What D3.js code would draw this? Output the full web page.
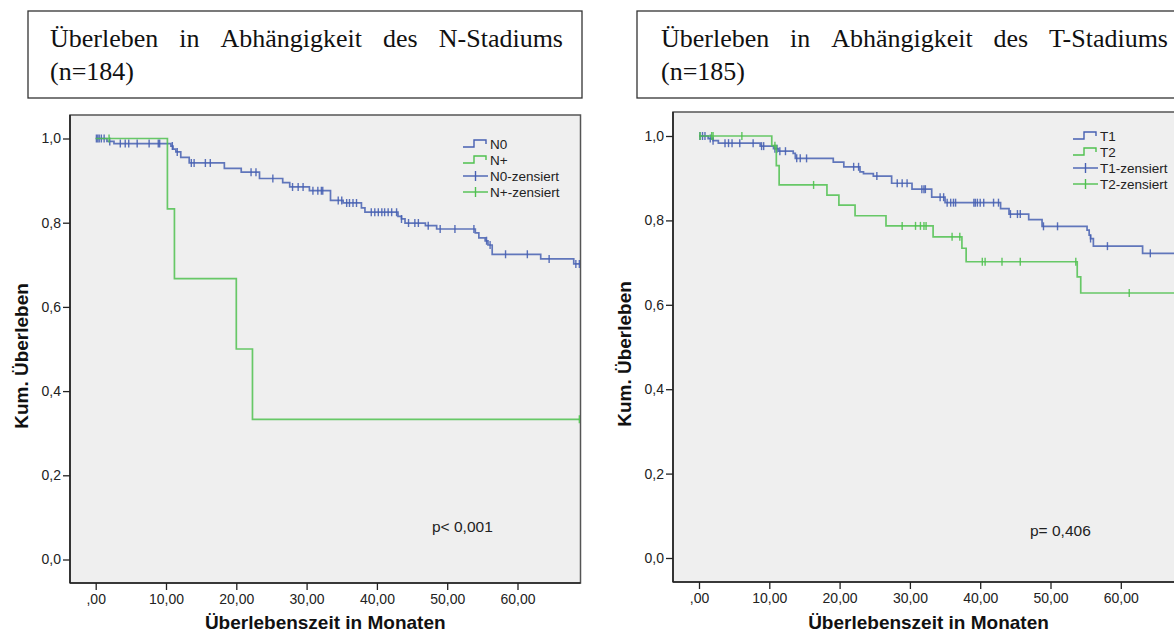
<!DOCTYPE html>
<html><head><meta charset="utf-8">
<script src="https://cdn.jsdelivr.net/npm/d3@7/dist/d3.min.js"></script>
<style>body{margin:0;background:#fff}svg{display:block}</style>
</head><body>
<svg id="c" width="1174" height="634"></svg>
<script>
// ---------- data ----------
const xTicks = [0, 10, 20, 30, 40, 50, 60];
const yTicks = [0, 0.2, 0.4, 0.6, 0.8, 1.0];

const titleLeft = ["Überleben in Abhängigkeit des N-Stadiums", "(n=184)"];
const titleRight = ["Überleben in Abhängigkeit des T-Stadiums", "(n=185)"];
const xTitle = "Überlebenszeit in Monaten";
const yTitle = "Kum. Überleben";
const pLeft = "p< 0,001";
const pRight = "p= 0,406";

// N-Stadium
const n0Times = [0, 1.6, 2.6, 10.7, 11.0, 11.4, 12.1, 13.3, 18.3, 20.7, 23.3, 26.6, 27.6, 30.4, 33.4, 35.2, 37.8, 38.3, 43.0, 43.5, 44.0, 46.9, 48.5, 54.0, 54.5, 55.4, 55.8, 56.4, 63.3, 68.0];
const n0Surv  = [1.0, 0.993, 0.988, 0.982, 0.975, 0.968, 0.955, 0.942, 0.929, 0.920, 0.905, 0.895, 0.885, 0.876, 0.853, 0.847, 0.835, 0.825, 0.815, 0.809, 0.799, 0.793, 0.785, 0.776, 0.764, 0.757, 0.747, 0.725, 0.714, 0.702];
const n0End = 68.9;
const n0Censored = [0.1, 0.3, 0.5, 0.8, 1.2, 2.0, 3.5, 4.2, 4.7, 5.9, 7.6, 8.9, 9.1, 10.9, 11.6, 13.6, 14.0, 15.6, 16.3, 22.1, 22.8, 25.2, 28.0, 28.8, 29.5, 30.9, 31.6, 32.1, 32.3, 34.5, 35.0, 35.7, 36.1, 36.6, 37.1, 39.2, 39.7, 40.2, 40.7, 41.1, 41.6, 42.1, 42.8, 43.5, 44.5, 45.4, 45.9, 47.3, 49.0, 51.1, 53.8, 55.6, 56.1, 58.3, 61.4, 64.5, 68.3, 68.8];

const nPlusTimes = [0, 10.2, 11.2, 20.0, 22.3];
const nPlusSurv  = [1.0, 0.833, 0.667, 0.5, 0.333];
const nPlusEnd = 68.9;
const nPlusCensored = [1.9, 68.8];

// T-Stadium
const t1Times = [0, 1.3, 2.0, 2.75, 8.7, 10.6, 11.3, 13.4, 13.7, 19.1, 20.6, 22.9, 23.4, 24.8, 27.4, 30.3, 33.1, 35.0, 42.9, 44.1, 46.9, 48.8, 55.2, 55.5, 55.7, 56.1, 63.1];
const t1Surv  = [1.0, 0.994, 0.989, 0.983, 0.976, 0.970, 0.964, 0.959, 0.947, 0.938, 0.927, 0.915, 0.911, 0.905, 0.888, 0.874, 0.855, 0.842, 0.828, 0.815, 0.802, 0.786, 0.777, 0.765, 0.757, 0.739, 0.722];
const t1End = 69.5;
const t1Censored = [0.14, 0.5, 0.85, 1.6, 2.0, 3.7, 4.2, 4.7, 5.8, 7.7, 8.9, 9.2, 10.8, 11.1, 11.5, 12.3, 13.9, 14.4, 15.3, 22.0, 22.7, 25.3, 28.2, 28.9, 29.6, 31.7, 32.0, 32.2, 34.3, 34.8, 35.3, 35.8, 36.2, 36.5, 39.1, 39.3, 39.6, 40.0, 40.5, 41.9, 42.6, 44.3, 45.3, 45.7, 49.0, 51.0, 55.7, 58.1, 64.2];

const t2Times = [0, 10.35, 11.0, 11.4, 18.2, 19.9, 22.2, 26.6, 33.3, 37.4, 38.0, 53.8, 54.3];
const t2Surv  = [1.0, 0.977, 0.930, 0.884, 0.860, 0.836, 0.811, 0.787, 0.761, 0.734, 0.702, 0.666, 0.628];
const t2End = 69.5;
const t2Censored = [0.14, 1.8, 2.0, 6.1, 10.8, 16.3, 28.9, 30.8, 31.5, 32.0, 32.3, 36.0, 37.1, 40.3, 40.7, 43.1, 45.7, 53.6, 61.2];

const legendLeft = ["N0", "N+", "N0-zensiert", "N+-zensiert"];
const legendRight = ["T1", "T2", "T1-zensiert", "T2-zensiert"];

// ---------- styles ----------
const BLUE = "#4760b2";
const GREEN = "#4fc14f";
const SANS = "'Liberation Sans', Arial, sans-serif";
const SERIF = "'Liberation Serif', 'Times New Roman', serif";

const svg = d3.select("#c");

function fmtX(d) { return d === 0 ? ",00" : d3.format(".2f")(d).replace(".", ","); }
function fmtY(d) { return d3.format(".1f")(d).replace(".", ","); }

function titleBox(cfg, lines) {
  const g = svg.append("g");
  g.append("rect").attr("x", cfg.bx).attr("y", cfg.by).attr("width", cfg.bw).attr("height", cfg.bh)
    .attr("fill", "#fff").attr("stroke", "#333").attr("stroke-width", 1.3);
  const words = lines[0].split(" ");
  const nodes = words.map(w => g.append("text").text(w)
    .attr("font-family", SERIF).attr("font-size", cfg.fs).attr("fill", "#111").attr("y", cfg.l1));
  const widths = nodes.map(n => n.node().getComputedTextLength());
  const total = d3.sum(widths);
  const gap = (cfg.tx2 - cfg.tx1 - total) / (words.length - 1);
  let cx = cfg.tx1;
  nodes.forEach((n, i) => { n.attr("x", cx); cx += widths[i] + gap; });
  g.append("text").text(lines[1]).attr("x", cfg.tx1).attr("y", cfg.l2)
    .attr("font-family", SERIF).attr("font-size", cfg.fs).attr("fill", "#111");
}

function kmChart(cfg, series, legendLabels, pText) {
  const g = svg.append("g");
  const x = d3.scaleLinear().domain([0, 60]).range([cfg.x0, cfg.x0 + 60 * cfg.ppm]);
  const y = d3.scaleLinear().domain([0, 1]).range([cfg.yZero, cfg.yOne]);
  const L = cfg.left, R = cfg.right, T = cfg.top, B = cfg.bottom;

  g.append("rect").attr("x", L).attr("y", T).attr("width", R - L).attr("height", B - T)
    .attr("fill", "#efefef").attr("stroke", "#555").attr("stroke-width", 1.5);

  const clipId = "clip" + cfg.id;
  g.append("clipPath").attr("id", clipId).append("rect")
    .attr("x", L).attr("y", T).attr("width", R - L).attr("height", B - T);
  const plot = g.append("g").attr("clip-path", `url(#${clipId})`);

  const line = d3.line().x(d => x(d[0])).y(d => y(d[1])).curve(d3.curveStepAfter);
  series.forEach(s => {
    const pts = s.times.map((t, i) => [t, s.surv[i]]);
    pts.push([s.end, s.surv[s.surv.length - 1]]);
    plot.append("path").attr("d", line(pts)).attr("fill", "none")
      .attr("stroke", s.color).attr("stroke-width", 1.7).attr("stroke-opacity", 0.85);
    const survAt = t => { let v = s.surv[0]; s.times.forEach((tt, i) => { if (tt <= t) v = s.surv[i]; }); return v; };
    plot.selectAll(null).data(s.cens).enter().append("line")
      .attr("x1", d => x(d)).attr("x2", d => x(d))
      .attr("y1", d => y(survAt(d)) - 4).attr("y2", d => y(survAt(d)) + 4)
      .attr("stroke", s.color).attr("stroke-width", 1.4).attr("stroke-opacity", 0.9);
  });

  const ax = g.append("g").attr("transform", `translate(0,${B})`)
    .call(d3.axisBottom(x).tickValues(xTicks).tickFormat(fmtX).tickSize(7).tickPadding(4));
  const ay = g.append("g").attr("transform", `translate(${L},0)`)
    .call(d3.axisLeft(y).tickValues(yTicks).tickFormat(fmtY).tickSize(7).tickPadding(2));
  [ax, ay].forEach(a => {
    a.select(".domain").remove();
    a.selectAll("line").attr("stroke", "#222").attr("stroke-width", 1.3);
    a.selectAll("text").attr("font-family", SANS).attr("font-size", 14).attr("fill", "#222");
  });
  g.append("line").attr("x1", L).attr("x2", R).attr("y1", B).attr("y2", B).attr("stroke", "#222").attr("stroke-width", 1.6);
  g.append("line").attr("x1", L).attr("x2", L).attr("y1", T).attr("y2", B).attr("stroke", "#222").attr("stroke-width", 1.6);

  g.append("text").text(xTitle).attr("x", (L + cfg.fullRight) / 2).attr("y", cfg.xTitleY)
    .attr("text-anchor", "middle").attr("font-family", SANS).attr("font-weight", "bold")
    .attr("font-size", 19).attr("fill", "#111");
  g.append("text").text(yTitle)
    .attr("transform", `translate(${L - 42},${cfg.yTitleC}) rotate(-90)`)
    .attr("text-anchor", "middle").attr("font-family", SANS).attr("font-weight", "bold")
    .attr("font-size", 19).attr("fill", "#111");

  const lg = g.append("g").attr("transform", `translate(${cfg.legX},${cfg.legY})`);
  legendLabels.forEach((lab, i) => {
    const s = series[i % 2];
    const yy = i * cfg.legStep;
    if (i < 2) {
      lg.append("path").attr("d", `M0,${yy + 3} H11 V${yy - 4} H23 V${yy}`)
        .attr("fill", "none").attr("stroke", s.color).attr("stroke-width", 1.4);
    } else {
      lg.append("line").attr("x1", 0).attr("x2", 25).attr("y1", yy).attr("y2", yy)
        .attr("stroke", s.color).attr("stroke-width", 1.4);
      lg.append("line").attr("x1", 12.5).attr("x2", 12.5).attr("y1", yy - 5).attr("y2", yy + 5)
        .attr("stroke", s.color).attr("stroke-width", 1.4);
    }
    lg.append("text").text(lab).attr("x", 27).attr("y", yy + 5)
      .attr("font-family", SANS).attr("font-size", 13.5).attr("fill", "#222");
  });

  g.append("text").text(pText).attr("x", cfg.pX).attr("y", cfg.pY)
    .attr("font-family", SANS).attr("font-size", 15.5).attr("fill", "#222");
}

titleBox({ bx: 28, by: 11, bw: 554, bh: 87, tx1: 50, tx2: 563, l1: 47, l2: 80, fs: 26 }, titleLeft);
titleBox({ bx: 637, by: 11, bw: 600, bh: 87, tx1: 661, tx2: 1168, l1: 47, l2: 80, fs: 26 }, titleRight);

kmChart({ id: "L", left: 70, right: 580.5, top: 115, bottom: 583, fullRight: 580.5,
  x0: 95.7, ppm: 7.03, yOne: 138.5, yZero: 559.5, xTitleY: 629, yTitleC: 356,
  legX: 463, legY: 144, legStep: 16, pX: 432, pY: 531.5 },
  [{ times: n0Times, surv: n0Surv, end: n0End, cens: n0Censored, color: BLUE },
   { times: nPlusTimes, surv: nPlusSurv, end: nPlusEnd, cens: nPlusCensored, color: GREEN }],
  legendLeft, pLeft);

kmChart({ id: "R", left: 673, right: 1184, top: 112, bottom: 582, fullRight: 1184,
  x0: 699, ppm: 7.03, yOne: 136, yZero: 558, xTitleY: 629, yTitleC: 354,
  legX: 1073, legY: 136, legStep: 16, pX: 1030, pY: 536 },
  [{ times: t1Times, surv: t1Surv, end: t1End, cens: t1Censored, color: BLUE },
   { times: t2Times, surv: t2Surv, end: t2End, cens: t2Censored, color: GREEN }],
  legendRight, pRight);
</script>
</body></html>
